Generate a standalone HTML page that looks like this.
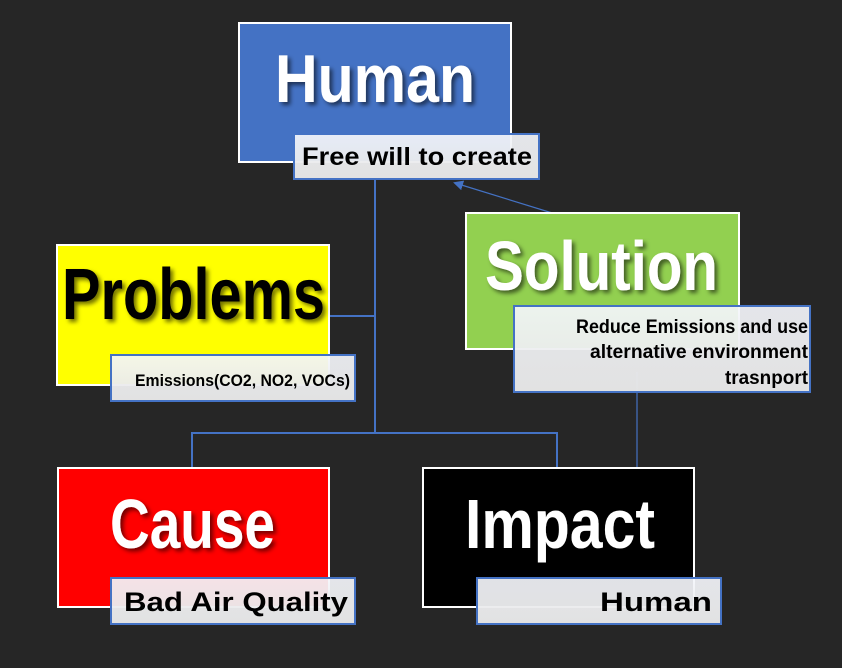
<!DOCTYPE html>
<html><head><style>html,body{margin:0;padding:0;background:#262626;}svg{display:block}</style></head>
<body>
<svg width="842" height="668" viewBox="0 0 842 668" xmlns="http://www.w3.org/2000/svg" font-family="Liberation Sans, sans-serif" font-weight="bold">
<defs>
<linearGradient id="g" x1="0" y1="0" x2="0" y2="1">
<stop offset="0" stop-color="#f4f6fb" stop-opacity="0.92"/>
<stop offset="1" stop-color="#e6e6e6" stop-opacity="0.98"/>
</linearGradient>
<filter id="sh" x="-10%" y="-10%" width="130%" height="130%"><feDropShadow dx="3" dy="3" stdDeviation="2" flood-color="#000" flood-opacity="0.55"/></filter>
<marker id="ar" markerWidth="10" markerHeight="10" refX="8" refY="5" orient="auto" markerUnits="userSpaceOnUse"><path d="M0,0 L10,5 L0,10 z" fill="#4472C4"/></marker>
</defs>
<rect width="842" height="668" fill="#262626"/>
<g stroke="#4472C4" stroke-width="2" fill="none">
<line x1="375" y1="180" x2="375" y2="433"/>
<line x1="330" y1="316" x2="375" y2="316"/>
<polyline points="192,467 192,433 557,433 557,467"/>
</g>
<line x1="562" y1="216" x2="455" y2="183" stroke="#4472C4" stroke-width="1.2" marker-end="url(#ar)"/>
<line x1="637" y1="372" x2="637" y2="467" stroke="#4472C4" stroke-width="1.2"/>
<rect x="239" y="23" width="272" height="139" fill="#4472C4" stroke="#fff" stroke-width="2"/>
<rect x="57" y="245" width="272" height="140" fill="#ffff00" stroke="#fff" stroke-width="2"/>
<rect x="466" y="213" width="273" height="136" fill="#92D050" stroke="#fff" stroke-width="2"/>
<rect x="58" y="468" width="271" height="139" fill="#ff0000" stroke="#fff" stroke-width="2"/>
<rect x="423" y="468" width="271" height="139" fill="#000" stroke="#fff" stroke-width="2"/>
<g font-size="68" filter="url(#sh)">
<text x="275" y="102" fill="#fff" textLength="200" lengthAdjust="spacingAndGlyphs">Human</text>
<text x="62" y="319" fill="#000" textLength="263" lengthAdjust="spacingAndGlyphs" font-size="72">Problems</text>
<text x="485" y="290" fill="#fff" textLength="233" lengthAdjust="spacingAndGlyphs" font-size="70">Solution</text>
<text x="110" y="548" fill="#fff" textLength="165" lengthAdjust="spacingAndGlyphs" font-size="70">Cause</text>
<text x="465" y="548" fill="#fff" textLength="190" lengthAdjust="spacingAndGlyphs" font-size="70">Impact</text>
</g>
<g stroke="#4472C4" stroke-width="2" fill="url(#g)">
<rect x="294" y="134" width="245" height="45"/>
<rect x="111" y="355" width="244" height="46"/>
<rect x="514" y="306" width="296" height="86"/>
<rect x="111" y="578" width="244" height="46"/>
<rect x="477" y="578" width="244" height="46"/>
</g>
<g fill="#000">
<text x="302" y="165" font-size="25" textLength="230" lengthAdjust="spacingAndGlyphs">Free will to create</text>
<text x="135" y="386" font-size="17" textLength="215" lengthAdjust="spacingAndGlyphs">Emissions(CO2, NO2, VOCs)</text>
<text x="808" y="333" font-size="19" text-anchor="end" textLength="232" lengthAdjust="spacingAndGlyphs">Reduce Emissions and use</text>
<text x="808" y="358" font-size="19" text-anchor="end" textLength="218" lengthAdjust="spacingAndGlyphs">alternative environment</text>
<text x="808" y="384" font-size="19" text-anchor="end" textLength="83" lengthAdjust="spacingAndGlyphs">trasnport</text>
<text x="124" y="611" font-size="27" textLength="224" lengthAdjust="spacingAndGlyphs">Bad Air Quality</text>
<text x="600" y="611" font-size="27" textLength="112" lengthAdjust="spacingAndGlyphs">Human</text>
</g>
</svg>
</body></html>
